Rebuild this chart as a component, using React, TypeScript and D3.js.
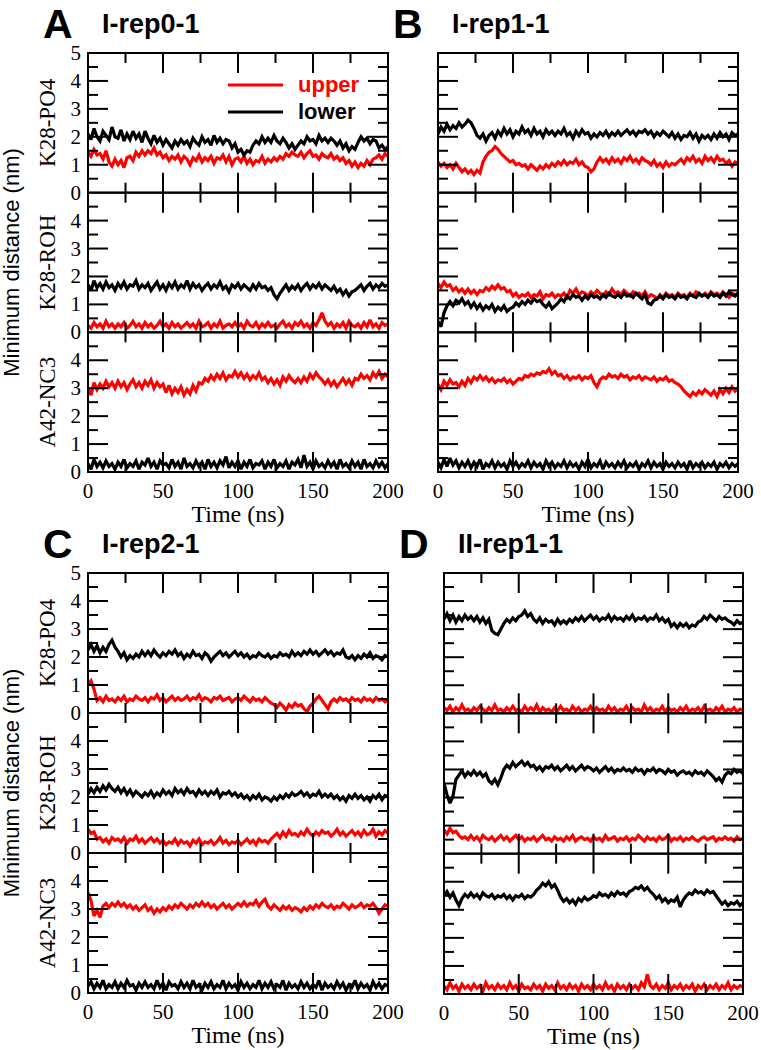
import React from 'react';
import * as d3 from 'd3';

// sampling times (ns)
const TIME = d3.range(0, 201, 2);
const X_TICK_LABELS = [0, 50, 100, 150, 200];
const SUB_NAMES = ['K28-PO4', 'K28-ROH', 'A42-NC3'];
const LEGEND = ['upper', 'lower'];

// ---------- Panel A: I-rep0-1 ----------
const A1_UP = [1.45,1.3,1.55,1.35,1.4,1.2,1.5,1.1,0.95,1.2, 1.0,1.15,0.9,1.25,1.3,1.15,1.45,1.3,1.5,1.35, 1.5,1.4,1.6,1.35,1.45,1.25,1.35,1.15,1.3,1.2, 1.35,1.1,1.3,1.2,1.0,1.25,1.15,1.35,1.1,1.25, 1.15,1.3,1.05,1.25,1.2,1.35,1.1,1.3,1.0,1.2, 1.25,1.1,1.3,1.05,1.2,1.0,1.15,1.1,1.3,1.05, 1.2,1.1,1.25,1.15,1.3,1.2,1.4,1.3,1.45,1.35, 1.3,1.45,1.25,1.4,1.5,1.3,1.35,1.2,1.4,1.3, 1.25,1.4,1.2,1.3,1.15,1.25,1.05,1.15,0.95,1.1, 0.9,1.05,0.95,1.15,1.0,1.2,1.25,1.35,1.2,1.4, 1.3];
const A1_LO = [2.1,1.9,2.3,2.0,1.85,2.2,2.05,1.9,2.35,2.0, 1.95,2.25,1.85,2.1,1.9,2.2,1.95,2.1,1.8,2.2, 1.95,1.75,2.05,1.8,1.95,1.7,1.9,1.75,1.6,1.85, 1.7,1.9,1.75,1.85,1.65,1.95,1.8,1.7,2.0,1.8, 1.9,1.7,2.05,1.8,1.95,1.75,1.9,1.85,1.6,1.75, 1.45,1.55,1.35,1.5,1.45,1.7,1.85,1.75,2.0,1.8, 1.95,1.8,2.05,1.85,1.75,1.95,1.8,1.6,1.75,1.55, 1.7,1.85,1.75,2.0,1.85,1.9,1.75,2.05,1.85,1.95, 1.8,1.95,1.85,1.7,1.85,1.6,1.75,1.5,1.65,1.55, 1.8,2.0,1.85,1.95,1.75,1.9,1.85,1.6,1.7,1.55, 1.65];
const A2_UP = [0.25,0.15,0.35,0.2,0.3,0.15,0.4,0.2,0.3,0.15, 0.3,0.2,0.35,0.15,0.25,0.4,0.2,0.3,0.15,0.35, 0.2,0.3,0.15,0.25,0.4,0.2,0.3,0.15,0.35,0.2, 0.3,0.15,0.25,0.35,0.2,0.3,0.15,0.4,0.2,0.25, 0.35,0.15,0.3,0.2,0.4,0.15,0.25,0.3,0.2,0.35, 0.2,0.3,0.15,0.4,0.25,0.2,0.35,0.15,0.3,0.2, 0.35,0.2,0.25,0.15,0.3,0.4,0.2,0.3,0.15,0.35, 0.25,0.4,0.2,0.3,0.15,0.35,0.25,0.45,0.7,0.4, 0.25,0.35,0.15,0.3,0.2,0.35,0.15,0.4,0.25,0.2, 0.3,0.15,0.35,0.2,0.45,0.2,0.3,0.15,0.35,0.25, 0.3];
const A2_LO = [1.7,1.5,1.85,1.6,1.75,1.55,1.8,1.6,1.7,1.5, 1.75,1.6,1.8,1.55,1.7,1.65,1.85,1.55,1.7,1.6, 1.75,1.5,1.65,1.8,1.55,1.7,1.5,1.75,1.6,1.8, 1.55,1.7,1.6,1.85,1.55,1.75,1.6,1.7,1.5,1.65, 1.75,1.55,1.7,1.6,1.8,1.55,1.65,1.45,1.7,1.6, 1.75,1.55,1.7,1.6,1.5,1.7,1.55,1.75,1.6,1.65, 1.5,1.6,1.35,1.2,1.4,1.55,1.7,1.5,1.65,1.55, 1.7,1.5,1.65,1.75,1.55,1.7,1.6,1.75,1.55,1.7, 1.6,1.5,1.65,1.45,1.55,1.35,1.5,1.3,1.45,1.5, 1.6,1.7,1.5,1.65,1.75,1.55,1.7,1.6,1.75,1.65, 1.7];
const A3_UP = [3.0,2.75,3.2,2.95,3.15,3.0,3.25,3.05,3.2,3.0, 3.25,3.05,3.2,2.95,3.15,3.3,3.05,3.2,3.0,3.25, 3.1,3.3,3.0,3.2,3.05,3.15,2.85,3.1,2.8,3.0, 2.85,3.05,2.75,2.95,2.8,3.1,2.9,3.2,3.15,3.35, 3.25,3.45,3.3,3.5,3.35,3.55,3.3,3.45,3.4,3.6, 3.4,3.55,3.35,3.5,3.3,3.45,3.35,3.55,3.3,3.4, 3.2,3.35,3.15,3.3,3.1,3.4,3.25,3.45,3.3,3.2, 3.35,3.2,3.4,3.25,3.5,3.35,3.55,3.4,3.3,3.15, 3.3,3.1,3.25,3.05,3.2,3.35,3.15,3.3,3.1,3.35, 3.3,3.5,3.35,3.45,3.3,3.55,3.4,3.6,3.35,3.5, 3.4];
const A3_LO = [0.3,0.1,0.45,0.2,0.35,0.15,0.4,0.2,0.3,0.1, 0.35,0.2,0.45,0.15,0.3,0.2,0.4,0.1,0.35,0.25, 0.5,0.2,0.35,0.1,0.4,0.25,0.3,0.15,0.45,0.2, 0.35,0.1,0.5,0.2,0.3,0.15,0.4,0.2,0.35,0.1, 0.45,0.2,0.35,0.15,0.4,0.25,0.55,0.15,0.35,0.2, 0.4,0.1,0.35,0.2,0.45,0.15,0.3,0.25,0.4,0.1, 0.35,0.2,0.45,0.15,0.3,0.2,0.4,0.1,0.35,0.25, 0.45,0.15,0.6,0.2,0.35,0.1,0.4,0.2,0.3,0.15, 0.4,0.2,0.35,0.1,0.45,0.2,0.3,0.15,0.4,0.2, 0.35,0.1,0.45,0.2,0.3,0.15,0.4,0.2,0.35,0.15, 0.3];

// ---------- Panel B: I-rep1-1 ----------
const B1_UP = [1.1,0.95,1.05,0.9,1.0,0.85,1.05,0.9,0.75,0.85, 0.7,0.8,0.65,0.8,0.7,1.1,1.3,1.45,1.5,1.65, 1.55,1.4,1.3,1.2,1.1,1.15,1.0,1.05,0.95,1.0, 0.85,1.0,0.9,0.8,0.95,0.85,1.0,0.9,1.05,0.95, 1.1,1.0,1.15,1.0,1.1,1.05,1.2,1.0,1.1,0.95, 0.9,0.75,0.85,1.1,1.25,1.1,1.2,1.05,1.25,1.1, 1.2,1.05,1.25,1.15,1.3,1.1,1.2,1.05,1.25,1.15, 1.1,1.0,1.15,0.95,1.05,0.9,1.1,0.95,1.05,1.0, 1.1,1.2,1.05,1.25,1.15,1.3,1.1,1.2,1.05,1.3, 1.15,1.25,1.1,1.3,1.15,1.2,1.05,1.15,0.95,1.1, 1.05];
const B1_LO = [2.1,2.35,2.2,2.45,2.25,2.4,2.3,2.5,2.35,2.45, 2.6,2.5,2.3,2.05,1.95,2.1,1.85,2.05,2.15,1.95, 2.2,2.05,2.3,2.1,2.25,2.0,2.2,2.1,2.35,2.15, 2.25,2.05,2.3,2.1,2.2,2.0,2.25,2.1,2.2,2.05, 2.2,2.1,2.3,2.05,2.15,1.95,2.2,2.05,2.25,2.1, 2.15,1.95,2.1,2.0,2.15,2.05,2.2,2.0,2.15,2.05, 2.2,2.05,2.15,2.25,2.1,2.2,2.05,2.2,2.15,2.25, 2.1,2.2,2.0,2.15,2.05,2.2,2.1,2.0,2.15,1.95, 2.1,1.9,2.05,2.0,2.15,1.95,2.1,1.85,2.05,1.95, 2.05,1.9,2.1,1.95,2.15,2.0,2.1,1.9,2.15,2.05, 2.1];
const B2_UP = [1.75,1.6,1.8,1.65,1.7,1.5,1.6,1.45,1.55,1.4, 1.55,1.4,1.5,1.35,1.5,1.45,1.6,1.5,1.65,1.55, 1.7,1.55,1.6,1.45,1.5,1.3,1.4,1.25,1.35,1.3, 1.4,1.25,1.35,1.3,1.45,1.2,1.35,1.3,1.4,1.25, 1.35,1.3,1.4,1.25,1.5,1.4,1.55,1.35,1.45,1.4, 1.3,1.45,1.35,1.5,1.4,1.3,1.45,1.35,1.55,1.4, 1.45,1.35,1.5,1.4,1.3,1.45,1.35,1.4,1.3,1.45, 1.25,1.35,1.3,1.2,1.35,1.25,1.4,1.3,1.35,1.25, 1.4,1.3,1.35,1.25,1.4,1.3,1.45,1.35,1.3,1.4, 1.3,1.45,1.35,1.4,1.3,1.45,1.35,1.25,1.4,1.35, 1.4];
const B2_LO = [0.4,0.2,0.7,0.95,1.1,0.95,1.15,1.05,1.2,1.0, 1.1,0.9,1.05,0.85,1.0,0.8,0.95,0.85,1.0,0.75, 0.9,0.8,0.95,0.75,0.85,0.9,1.05,0.95,1.1,1.0, 1.15,1.05,1.2,1.1,1.15,1.0,0.9,1.05,0.85,0.95, 1.05,1.2,1.1,1.3,1.2,1.35,1.25,1.3,1.15,1.3, 1.2,1.35,1.25,1.3,1.2,1.35,1.25,1.4,1.3,1.25, 1.35,1.25,1.4,1.3,1.35,1.25,1.4,1.3,1.2,1.35, 1.05,1.0,1.15,1.2,1.3,1.2,1.35,1.25,1.3,1.2, 1.35,1.25,1.3,1.2,1.35,1.3,1.25,1.4,1.3,1.35, 1.25,1.4,1.3,1.35,1.25,1.4,1.3,1.45,1.35,1.3, 1.4];
const B3_UP = [3.15,2.95,3.25,3.1,3.3,3.15,3.2,3.05,3.25,3.1, 3.35,3.2,3.4,3.3,3.45,3.3,3.4,3.25,3.35,3.2, 3.3,3.25,3.35,3.2,3.3,3.15,3.25,3.35,3.3,3.45, 3.4,3.5,3.45,3.55,3.5,3.6,3.55,3.7,3.5,3.6, 3.45,3.5,3.35,3.45,3.3,3.4,3.35,3.45,3.3,3.4, 3.35,3.45,3.2,3.05,3.3,3.4,3.35,3.5,3.4,3.45, 3.35,3.5,3.4,3.45,3.3,3.4,3.35,3.45,3.3,3.4, 3.35,3.3,3.4,3.25,3.35,3.3,3.4,3.25,3.3,3.2, 3.15,3.05,2.9,2.8,2.7,2.85,2.75,2.9,2.8,2.95, 2.85,2.75,2.9,2.7,2.95,2.8,3.0,2.85,3.05,2.9, 3.0];
const B3_LO = [0.35,0.15,0.45,0.2,0.5,0.25,0.4,0.15,0.35,0.2, 0.4,0.15,0.35,0.2,0.45,0.1,0.3,0.2,0.4,0.15, 0.35,0.2,0.3,0.1,0.4,0.2,0.35,0.15,0.3,0.2, 0.4,0.15,0.35,0.2,0.3,0.1,0.4,0.2,0.35,0.15, 0.3,0.2,0.4,0.15,0.35,0.2,0.3,0.1,0.35,0.2, 0.45,0.15,0.3,0.2,0.4,0.1,0.35,0.2,0.3,0.15, 0.35,0.2,0.4,0.15,0.3,0.2,0.35,0.1,0.3,0.2, 0.4,0.15,0.35,0.2,0.3,0.1,0.35,0.2,0.3,0.15, 0.35,0.2,0.3,0.1,0.4,0.15,0.3,0.2,0.35,0.15, 0.3,0.2,0.35,0.1,0.3,0.2,0.35,0.15,0.3,0.2, 0.3];

// ---------- Panel C: I-rep2-1 ----------
const C1_UP = [1.0,1.15,0.85,0.45,0.55,0.4,0.6,0.45,0.5,0.4, 0.55,0.45,0.6,0.4,0.5,0.45,0.6,0.5,0.45,0.55, 0.4,0.55,0.5,0.65,0.45,0.55,0.4,0.5,0.6,0.45, 0.55,0.45,0.5,0.6,0.45,0.55,0.5,0.65,0.45,0.55, 0.5,0.4,0.55,0.5,0.6,0.45,0.5,0.55,0.4,0.5, 0.55,0.45,0.6,0.5,0.4,0.55,0.45,0.5,0.4,0.55, 0.45,0.35,0.3,0.2,0.35,0.25,0.1,0.3,0.2,0.35, 0.25,0.3,0.15,0.05,0.25,0.35,0.5,0.6,0.45,0.3, 0.15,0.4,0.5,0.4,0.55,0.45,0.5,0.4,0.55,0.45, 0.5,0.4,0.55,0.45,0.5,0.4,0.55,0.45,0.5,0.4, 0.45];
const C1_LO = [2.25,2.45,2.2,2.4,2.15,2.35,2.2,2.45,2.6,2.35, 2.2,2.0,2.15,1.9,2.05,1.95,2.1,2.0,2.2,2.05, 2.2,2.05,2.25,2.1,2.0,2.15,2.05,2.2,2.1,2.25, 2.05,2.15,1.95,2.1,2.0,2.2,2.05,2.1,1.95,2.15, 2.05,1.85,2.0,2.1,2.2,2.05,2.15,2.0,2.1,2.2, 2.05,2.15,2.0,2.1,1.95,2.05,2.0,2.15,2.05,2.0, 2.1,1.95,2.05,2.0,2.15,2.05,2.1,2.0,2.2,2.05, 2.15,2.05,2.2,2.1,2.25,2.1,2.2,2.05,2.15,2.25, 2.1,2.2,2.05,2.15,2.1,2.25,2.0,1.95,2.05,1.9, 2.05,1.95,2.1,2.0,2.15,1.95,2.05,2.0,1.9,2.05, 2.0];
const C2_UP = [0.85,0.7,0.75,0.5,0.55,0.4,0.5,0.35,0.55,0.45, 0.5,0.4,0.55,0.35,0.5,0.45,0.6,0.4,0.5,0.35, 0.45,0.55,0.4,0.5,0.35,0.45,0.3,0.4,0.35,0.5, 0.3,0.45,0.35,0.4,0.25,0.45,0.35,0.5,0.3,0.4, 0.35,0.45,0.3,0.4,0.55,0.35,0.45,0.3,0.4,0.35, 0.45,0.3,0.4,0.5,0.35,0.45,0.3,0.5,0.4,0.45, 0.35,0.5,0.6,0.7,0.55,0.75,0.6,0.8,0.65,0.7, 0.6,0.75,0.65,0.85,0.7,0.6,0.75,0.65,0.8,0.7, 0.75,0.6,0.7,0.85,0.65,0.75,0.6,0.7,0.8,0.65, 0.75,0.6,0.8,0.65,0.7,0.85,0.6,0.75,0.65,0.8, 0.7];
const C2_LO = [2.1,2.3,2.15,2.35,2.2,2.4,2.25,2.45,2.3,2.2, 2.35,2.15,2.3,2.1,2.25,2.05,2.2,2.1,2.0,2.15, 2.05,2.2,2.0,2.15,2.05,2.25,2.1,2.2,2.05,2.3, 2.15,2.25,2.1,2.3,2.15,2.2,2.05,2.25,2.1,2.2, 2.05,2.2,2.1,2.25,2.0,2.15,2.1,2.2,2.05,2.15, 2.0,2.1,1.95,2.05,1.9,2.05,1.95,2.1,1.9,2.0, 1.95,1.85,2.0,1.9,2.05,1.95,2.1,2.0,2.15,2.05, 2.1,2.2,2.05,2.15,2.0,2.1,2.05,2.2,2.0,2.1, 2.0,2.1,1.95,2.05,1.9,2.0,1.85,2.05,1.95,2.1, 1.95,2.05,1.9,2.0,1.85,2.05,1.95,2.1,1.9,2.05, 2.0];
const C3_UP = [3.6,3.3,2.75,2.95,2.7,3.1,3.2,3.05,3.2,3.1, 3.25,3.1,3.2,3.05,3.15,3.0,3.1,2.95,3.05,3.15, 2.95,3.05,2.85,3.0,2.9,3.05,2.95,3.1,3.0,3.15, 3.05,3.2,3.1,3.0,3.15,3.05,3.2,3.1,3.25,3.1, 3.2,3.05,3.15,3.0,3.1,3.2,3.05,3.15,3.0,3.1, 3.2,3.1,3.25,3.1,3.2,3.15,3.3,3.1,3.25,3.35, 3.1,3.0,3.15,3.05,2.95,3.1,3.0,3.1,2.95,3.05, 3.0,2.9,3.05,2.95,3.1,3.0,3.15,3.05,3.2,3.1, 3.05,3.15,3.0,3.1,3.05,3.2,3.1,3.0,3.15,3.05, 3.1,3.2,3.05,3.15,3.1,3.2,3.05,2.85,3.0,3.15, 3.1];
const C3_LO = [0.25,0.4,0.15,0.35,0.2,0.45,0.15,0.3,0.2,0.4, 0.15,0.35,0.2,0.45,0.25,0.3,0.1,0.35,0.2,0.4, 0.2,0.3,0.15,0.45,0.2,0.35,0.1,0.4,0.25,0.3, 0.15,0.4,0.2,0.35,0.15,0.45,0.2,0.3,0.1,0.35, 0.2,0.4,0.15,0.3,0.2,0.45,0.15,0.35,0.2,0.3, 0.1,0.4,0.2,0.35,0.15,0.3,0.2,0.45,0.15,0.35, 0.2,0.4,0.15,0.3,0.2,0.45,0.1,0.35,0.2,0.3, 0.15,0.4,0.2,0.35,0.15,0.3,0.2,0.45,0.1,0.35, 0.2,0.3,0.15,0.4,0.2,0.35,0.1,0.3,0.2,0.45, 0.15,0.35,0.2,0.3,0.1,0.4,0.2,0.35,0.15,0.3, 0.25];

// ---------- Panel D: II-rep1-1 ----------
const D1_UP = [0.2,0.1,0.25,0.05,0.2,0.1,0.3,0.1,0.15,0.05, 0.2,0.1,0.25,0.15,0.05,0.2,0.1,0.3,0.1,0.15, 0.05,0.2,0.1,0.25,0.1,0.15,0.05,0.25,0.1,0.2, 0.1,0.3,0.05,0.2,0.1,0.15,0.05,0.2,0.1,0.25, 0.1,0.15,0.05,0.25,0.1,0.2,0.05,0.15,0.1,0.25, 0.05,0.2,0.1,0.15,0.05,0.25,0.1,0.2,0.05,0.15, 0.1,0.25,0.05,0.2,0.1,0.15,0.05,0.3,0.1,0.2, 0.05,0.15,0.1,0.25,0.05,0.2,0.1,0.15,0.05,0.2, 0.1,0.25,0.05,0.15,0.1,0.2,0.05,0.25,0.1,0.15, 0.05,0.2,0.1,0.25,0.05,0.15,0.1,0.2,0.05,0.15, 0.1];
const D1_LO = [3.35,3.55,3.3,3.5,3.25,3.45,3.3,3.5,3.35,3.45, 3.3,3.45,3.25,3.4,3.2,3.35,2.95,2.85,2.8,3.0, 3.2,3.35,3.25,3.4,3.3,3.45,3.5,3.65,3.45,3.55, 3.35,3.25,3.4,3.2,3.35,3.25,3.3,3.15,3.35,3.2, 3.3,3.2,3.35,3.25,3.4,3.3,3.45,3.3,3.4,3.5, 3.35,3.45,3.3,3.4,3.35,3.5,3.3,3.45,3.35,3.4, 3.3,3.45,3.35,3.5,3.3,3.4,3.35,3.45,3.3,3.4, 3.35,3.5,3.3,3.4,3.25,3.35,3.1,3.2,3.05,3.2, 3.1,3.2,3.05,3.15,3.1,3.25,3.3,3.45,3.35,3.5, 3.4,3.3,3.45,3.35,3.4,3.3,3.25,3.15,3.3,3.2, 3.25];
const D2_UP = [0.85,0.7,0.9,0.75,0.8,0.65,0.55,0.6,0.5,0.65, 0.5,0.6,0.45,0.65,0.55,0.5,0.6,0.45,0.55,0.65, 0.5,0.6,0.45,0.55,0.65,0.5,0.6,0.45,0.55,0.5, 0.6,0.45,0.55,0.65,0.5,0.55,0.45,0.6,0.5,0.55, 0.45,0.6,0.5,0.65,0.45,0.55,0.6,0.5,0.55,0.45, 0.6,0.5,0.55,0.45,0.65,0.5,0.55,0.6,0.45,0.55, 0.5,0.6,0.45,0.55,0.5,0.65,0.55,0.45,0.6,0.5, 0.55,0.45,0.6,0.5,0.55,0.65,0.45,0.55,0.5,0.6, 0.45,0.55,0.5,0.6,0.5,0.45,0.55,0.6,0.5,0.55, 0.6,0.45,0.55,0.5,0.6,0.5,0.55,0.45,0.6,0.5, 0.55];
const D2_LO = [2.5,2.1,1.8,2.05,2.65,2.8,2.95,2.75,2.9,2.8, 2.95,2.8,2.9,2.75,2.85,2.6,2.5,2.65,2.45,2.7, 3.0,3.15,3.05,3.25,3.1,3.2,3.3,3.15,3.25,3.1, 3.15,3.0,3.1,2.95,3.1,3.05,3.15,3.0,3.1,2.95, 3.05,3.15,3.0,3.1,2.95,3.05,3.15,3.0,3.1,3.05, 2.95,3.05,2.9,3.0,3.1,2.95,3.05,2.9,3.0,2.95, 3.05,2.95,3.0,2.9,3.05,2.95,3.0,2.85,3.0,2.95, 3.05,2.9,3.0,2.95,2.85,3.0,2.9,2.95,2.8,2.9, 2.95,2.85,2.9,2.8,2.95,2.85,2.9,2.8,2.95,2.85, 2.75,2.6,2.7,2.55,2.8,2.9,2.85,3.0,2.9,2.95, 2.85];
const D3_UP = [0.3,0.15,0.4,0.2,0.3,0.1,0.35,0.2,0.3,0.15, 0.35,0.2,0.3,0.1,0.4,0.2,0.3,0.15,0.35,0.2, 0.3,0.15,0.4,0.2,0.3,0.1,0.35,0.2,0.25,0.15, 0.35,0.2,0.3,0.1,0.35,0.2,0.3,0.15,0.4,0.2, 0.3,0.15,0.35,0.2,0.3,0.1,0.35,0.2,0.3,0.15, 0.35,0.2,0.3,0.15,0.4,0.2,0.3,0.1,0.35,0.2, 0.3,0.15,0.35,0.2,0.3,0.15,0.4,0.25,0.7,0.3, 0.2,0.35,0.15,0.3,0.2,0.4,0.15,0.3,0.2,0.35, 0.15,0.3,0.2,0.35,0.1,0.3,0.2,0.35,0.15,0.3, 0.2,0.35,0.15,0.3,0.2,0.4,0.15,0.3,0.2,0.3, 0.25];
const D3_LO = [3.5,3.65,3.45,3.6,3.35,3.15,3.4,3.55,3.45,3.6, 3.45,3.55,3.4,3.6,3.5,3.45,3.55,3.4,3.5,3.45, 3.55,3.4,3.5,3.35,3.5,3.45,3.55,3.4,3.5,3.45, 3.55,3.7,3.8,3.95,3.85,4.0,3.8,3.9,3.7,3.45, 3.3,3.4,3.25,3.35,3.2,3.4,3.3,3.45,3.35,3.4, 3.5,3.45,3.6,3.5,3.55,3.45,3.6,3.5,3.65,3.55, 3.6,3.5,3.65,3.7,3.8,3.75,3.85,3.7,3.8,3.65, 3.55,3.4,3.5,3.3,3.4,3.25,3.35,3.3,3.45,3.1, 3.35,3.5,3.6,3.55,3.7,3.6,3.65,3.55,3.7,3.6, 3.65,3.5,3.35,3.2,3.3,3.15,3.25,3.2,3.3,3.15, 3.25];

const PANEL_DATA = [
  { letter: 'A', title: 'I-rep0-1', series: [[A1_UP, A1_LO], [A2_UP, A2_LO], [A3_UP, A3_LO]] },
  { letter: 'B', title: 'I-rep1-1', series: [[B1_UP, B1_LO], [B2_UP, B2_LO], [B3_UP, B3_LO]] },
  { letter: 'C', title: 'I-rep2-1', series: [[C1_UP, C1_LO], [C2_UP, C2_LO], [C3_UP, C3_LO]] },
  { letter: 'D', title: 'II-rep1-1', series: [[D1_UP, D1_LO], [D2_UP, D2_LO], [D3_UP, D3_LO]] },
];

// layout
const LAYOUT = [
  { left: 88, right: 388, top: 53, bottom: 472, yLabels: true, legend: true },
  { left: 438, right: 738, top: 53, bottom: 472, yLabels: false, legend: false },
  { left: 88, right: 388, top: 573, bottom: 993, yLabels: true, legend: false },
  { left: 444, right: 743, top: 573, bottom: 994, yLabels: false, legend: false },
];

const SERIF = '"Liberation Serif", "Times New Roman", serif';
const SANS = '"Liberation Sans", Arial, Helvetica, sans-serif';
const COLORS = ['#ff0000', '#000000'];
const AXIS_W = 2;

function Subplot({ pi, sub, left, right, top, bottom, yLabels, series }) {
  const x = d3.scaleLinear().domain([0, 200]).range([left, right]);
  const y = d3.scaleLinear().domain([0, 5]).range([bottom, top]);
  const line = d3.line<number>().x((_, i) => x(TIME[i])).y((d) => y(d));
  const clipId = `clip-${pi}-${sub}`;
  const xTicks = d3.range(25, 200, 25);
  const yTicks = d3.range(0.5, 5, 0.5);
  const yLab = sub === 0 ? [0, 1, 2, 3, 4, 5] : [0, 1, 2, 3, 4];
  return (
    <g>
      <defs>
        <clipPath id={clipId}>
          <rect x={left} y={top} width={right - left} height={bottom - top} />
        </clipPath>
      </defs>
      <g clipPath={`url(#${clipId})`}>
        {series.map((s, k) => (
          <path key={k} d={line(s) || ''} fill="none" stroke={COLORS[k]} strokeWidth={3.2} strokeLinejoin="miter" strokeMiterlimit={2.5} />
        ))}
      </g>
      {xTicks.map((t) => {
        const len = t % 50 === 0 ? 20 : 10;
        return (
          <g key={'x' + t} stroke="#000" strokeWidth={AXIS_W}>
            <line x1={x(t)} x2={x(t)} y1={top} y2={top + len} />
            <line x1={x(t)} x2={x(t)} y1={bottom} y2={bottom - len} />
          </g>
        );
      })}
      {yTicks.map((v) => {
        const len = Number.isInteger(v) ? 20 : 10;
        return (
          <g key={'y' + v} stroke="#000" strokeWidth={AXIS_W}>
            <line x1={left} x2={left + len} y1={y(v)} y2={y(v)} />
            <line x1={right} x2={right - len} y1={y(v)} y2={y(v)} />
          </g>
        );
      })}
      <rect x={left} y={top} width={right - left} height={bottom - top} fill="none" stroke="#000" strokeWidth={AXIS_W} />
      {yLabels && yLab.map((v) => (
        <text key={'yl' + v} x={left - 7} y={y(v) + 7} textAnchor="end" fontFamily={SERIF} fontSize={21} fill="#000">{v}</text>
      ))}
      {yLabels && (
        <text transform={`translate(${left - 33},${(top + bottom) / 2}) rotate(-90)`} textAnchor="middle" fontFamily={SERIF} fontSize={23} fill="#000">{SUB_NAMES[sub]}</text>
      )}
    </g>
  );
}

function Panel({ pi }) {
  const P = PANEL_DATA[pi];
  const L = LAYOUT[pi];
  const h = (L.bottom - L.top) / 3;
  const x = d3.scaleLinear().domain([0, 200]).range([L.left, L.right]);
  return (
    <g>
      <text x={L.left - 45} y={L.top - 15} fontFamily={SANS} fontWeight="bold" fontSize={41} fill="#000">{P.letter}</text>
      <text x={L.left + 14} y={L.top - 20} fontFamily={SANS} fontWeight="bold" fontSize={27} fill="#000">{P.title}</text>
      {P.series.map((s, sub) => (
        <Subplot key={sub} pi={pi} sub={sub} left={L.left} right={L.right}
          top={L.top + sub * h} bottom={L.top + (sub + 1) * h} yLabels={L.yLabels} series={s} />
      ))}
      {X_TICK_LABELS.map((t) => (
        <text key={t} x={x(t)} y={L.bottom + 26} textAnchor="middle" fontFamily={SERIF} fontSize={21} fill="#000">{t}</text>
      ))}
      <text x={(L.left + L.right) / 2} y={L.bottom + 50} textAnchor="middle" fontFamily={SERIF} fontSize={24} fill="#000">Time (ns)</text>
      {L.yLabels && (
        <text transform={`translate(19,${(L.top + L.bottom) / 2}) rotate(-90)`} textAnchor="middle" fontFamily={SANS} fontSize={22} fill="#000">Minimum distance (nm)</text>
      )}
      {L.legend && LEGEND.map((name, k) => (
        <g key={name}>
          <line x1={L.left + 140} x2={L.left + 195} y1={L.top + 32 + k * 27} y2={L.top + 32 + k * 27} stroke={COLORS[k]} strokeWidth={3} />
          <text x={L.left + 210} y={L.top + 39 + k * 27} fontFamily={SANS} fontWeight="bold" fontSize={22} fill={COLORS[k]}>{name}</text>
        </g>
      ))}
    </g>
  );
}

export default function App() {
  return (
    <svg width={761} height={1050} style={{ position: 'absolute', left: 0, top: 0, background: '#fff' }}>
      <rect width={761} height={1050} fill="#fff" />
      {PANEL_DATA.map((_, pi) => <Panel key={pi} pi={pi} />)}
    </svg>
  );
}
